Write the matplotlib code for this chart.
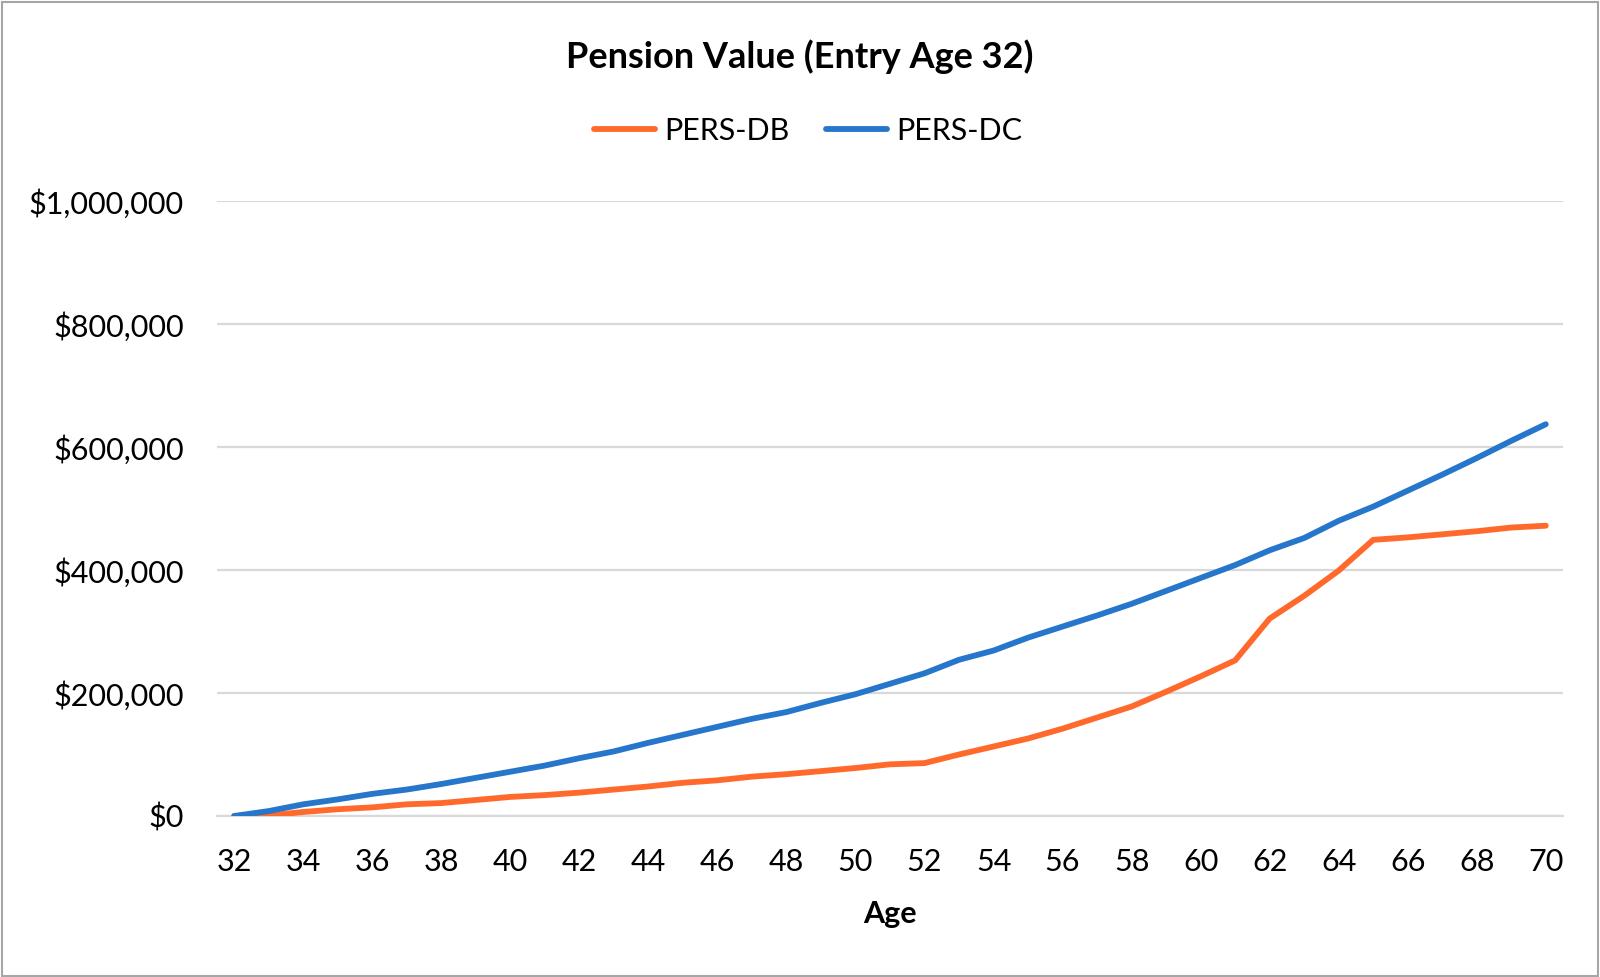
import matplotlib
matplotlib.use("Agg")
import matplotlib.pyplot as plt
from matplotlib.ticker import FuncFormatter, MultipleLocator
from matplotlib.patches import Rectangle

ages = list(range(32, 71))
pers_db = [0, 1000, 6500, 11000, 14000, 19000, 21000, 26000, 31000, 34000,
           38000, 43000, 48000, 54000, 58000, 64000, 68000, 73000, 78000, 84000,
           86000, 100000, 113000, 126000, 142000, 160000, 178000, 202000, 227000, 253000,
           321000, 358000, 399000, 449000, 453000, 458000, 463000, 469000, 472000]
pers_dc = [0, 8000, 19000, 27000, 36000, 43000, 52000, 62000, 72000, 82000,
           94000, 105000, 119000, 132000, 145000, 158000, 169000, 184000, 198000, 215000,
           232000, 254000, 269000, 290000, 308000, 326000, 345000, 366000, 387000, 408000,
           432000, 452000, 480000, 503000, 529000, 555000, 582000, 610000, 637000]
series_names = ["PERS-DB", "PERS-DC"]
title = "Pension Value (Entry Age 32)"
xlabel = "Age"

plt.rcParams['font.family'] = ['Lato', 'DejaVu Sans']

fig = plt.figure(figsize=(16, 9.77), dpi=100)
ax = fig.add_axes([0.1356, 0.1648, 0.8413, 0.6295])

c_db = '#FF6A2C'
c_dc = '#2676CC'
ax.plot(ages, pers_db, color=c_db, lw=4.2, label=series_names[0], solid_capstyle='round', zorder=3)
ax.plot(ages, pers_dc, color=c_dc, lw=4.2, label=series_names[1], solid_capstyle='round', zorder=3)

ax.set_xlim(31.5, 70.5)
ax.set_ylim(0, 1000000)
ax.yaxis.set_major_locator(MultipleLocator(200000))
ax.xaxis.set_major_locator(MultipleLocator(2))
ax.yaxis.set_major_formatter(FuncFormatter(lambda v, p: "${:,.0f}".format(v)))
ax.grid(axis='y', color='#D9D9D9', lw=1.6)
ax.set_axisbelow(True)
for s in ['top', 'right', 'left']:
    ax.spines[s].set_visible(False)
ax.spines['bottom'].set_color('#D9D9D9')
ax.spines['bottom'].set_linewidth(1.6)
ax.tick_params(axis='both', length=0, labelsize=22, colors='black')
ax.tick_params(axis='y', pad=24)
ax.tick_params(axis='x', pad=23)
ax.set_xlabel(xlabel, fontsize=22, fontweight='bold', labelpad=17)

fig.text(0.5, 0.942, title, ha='center', va='center', fontsize=26, fontweight='bold')
fig.legend(loc='center', bbox_to_anchor=(0.505, 0.866), ncol=2, frameon=False,
           fontsize=22, handlelength=2.0, columnspacing=1.2, handletextpad=0.3)

fig.patches.append(Rectangle((0.001, 0.001), 0.998, 0.997, transform=fig.transFigure,
                             fill=False, edgecolor='#A6A6A6', lw=1.5))

fig.savefig('out.png', dpi=100)
